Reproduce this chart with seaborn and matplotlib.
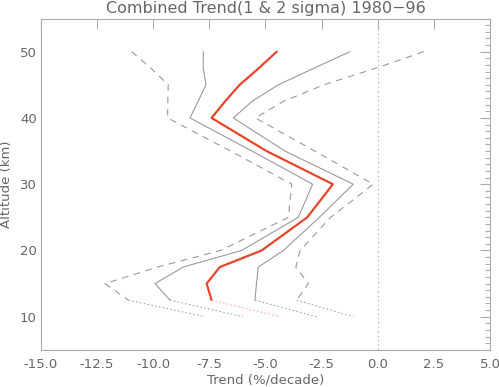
import numpy as np
import pandas as pd
import seaborn as sns
import matplotlib.pyplot as plt
from matplotlib.ticker import MultipleLocator, FormatStrFormatter

# altitude grid (km) and trend values (%/decade)
altitude = [50, 47.5, 45, 42.5, 40, 35, 30, 25, 20, 17.5, 15, 12.5]
trend_mean = [-4.5, -5.3, -6.15, -6.8, -7.4, -4.95, -2.0, -3.14, -5.17, -7.03, -7.62, -7.4]
lo_1sigma = [-7.77, -7.77, -7.65, -8.0, -8.36, -5.6, -2.9, -3.54, -6.06, -8.66, -9.92, -9.25]
hi_1sigma = [-1.24, -2.85, -4.43, -5.6, -6.43, -4.13, -1.09, -2.6, -4.2, -5.32, -5.4, -5.47]
lo_2sigma = [-10.96, -10.1, -9.33, -9.35, -9.36, -6.55, -3.83, -3.98, -7.0, -9.8, -12.15, -11.1]
hi_2sigma = [2.05, -0.1, -2.4, -4.2, -5.45, -2.8, -0.2, -2.1, -3.46, -3.65, -3.09, -3.61]

# lower extension 12.5 -> 10 km (dotted)
ext_altitude = [12.5, 10]
ext_mean = [-7.4, -4.35]
ext_lo_1sigma = [-9.25, -6.0]
ext_hi_1sigma = [-5.47, -2.72]
ext_lo_2sigma = [-11.1, -7.7]
ext_hi_2sigma = [-3.61, -1.09]

sns.set_style("white")
plt.rcParams['font.family'] = ['DejaVu Sans']
txt = '#666666'
gray = '#9a9a9a'
red = '#e8462a'

fig = plt.figure(figsize=(4.99, 3.87), dpi=100)
ax = fig.add_axes([0.082, 0.096, 0.9, 0.856])

# zero line
ax.axvline(0, color='#b8b8c8', lw=0.8, ls=(0, (1.5, 2.5)))

def draw(x, y, color, lw, ls):
    sns.lineplot(x=x, y=y, sort=False, estimator=None, color=color,
                 lw=lw, ls=ls, ax=ax)

draw(lo_2sigma, altitude, gray, 0.8, (0, (6, 5)))
draw(hi_2sigma, altitude, gray, 0.8, (0, (6, 5)))
draw(lo_1sigma, altitude, gray, 0.8, '-')
draw(hi_1sigma, altitude, gray, 0.8, '-')
draw(trend_mean, altitude, red, 1.6, '-')

for ext in [ext_lo_2sigma, ext_hi_2sigma, ext_lo_1sigma, ext_hi_1sigma]:
    draw(ext, ext_altitude, '#a8a8a8', 0.8, (0, (1.5, 2)))
draw(ext_mean, ext_altitude, '#f5b0a8', 0.8, (0, (1.5, 2)))

ax.set_xlim(-15, 5)
ax.set_ylim(5, 55)
ax.xaxis.set_major_locator(MultipleLocator(2.5))
ax.xaxis.set_major_formatter(FormatStrFormatter('%.1f'))
ax.yaxis.set_major_locator(MultipleLocator(10))
ax.yaxis.set_minor_locator(MultipleLocator(1))

for s in ax.spines.values():
    s.set_color('#aaaaaa')
    s.set_linewidth(0.8)

ax.tick_params(which='both', direction='in', top=True, right=True,
               color='#aaaaaa', width=0.8, labelcolor=txt, labelsize=9.5)
ax.tick_params(which='major', length=7)
ax.tick_params(which='minor', length=3.5)
ax.tick_params(axis='x', which='major', pad=6)
ax.tick_params(axis='y', which='major', pad=3)

ax.set_xlabel('Trend (%/decade)', color=txt, fontsize=9.5, labelpad=2)
ax.set_ylabel('Altitude (km)', color=txt, fontsize=9.5, labelpad=5)
ax.set_title('Combined Trend(1 & 2 sigma) 1980\u221296', color=txt,
             fontsize=11.5, pad=4)

fig.savefig('out.png', dpi=100)
